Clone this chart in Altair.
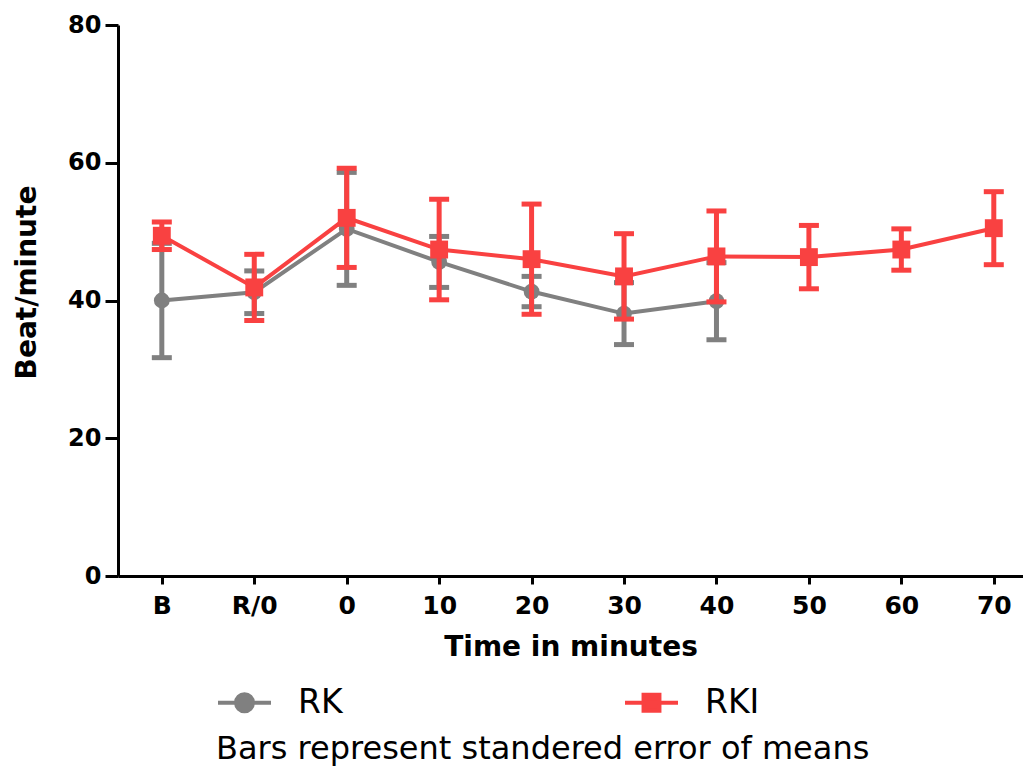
import altair as alt
import pandas as pd

times = ["B", "R/0", "0", "10", "20", "30", "40", "50", "60", "70"]
series_names = ["RK", "RKI"]
rk_mean = [40.0, 41.2, 50.4, 45.6, 41.3, 38.1, 39.9]
rk_sem = [8.3, 3.1, 8.2, 3.7, 2.2, 4.5, 5.6]
rki_mean = [49.4, 41.9, 52.0, 47.4, 46.0, 43.5, 46.4, 46.3, 47.4, 50.5]
rki_sem = [2.0, 4.8, 7.2, 7.3, 8.0, 6.2, 6.6, 4.6, 3.0, 5.3]

GRAY = "#808080"
RED = "#F94141"

rk_df = pd.DataFrame({"time": times[:len(rk_mean)], "mean": rk_mean, "sem": rk_sem})
rki_df = pd.DataFrame({"time": times[:len(rki_mean)], "mean": rki_mean, "sem": rki_sem})
legend_df = pd.DataFrame({"series": series_names})

x_enc = alt.X("time:N", sort=times, title="Time in minutes",
              scale=alt.Scale(type="point", padding=0.395, align=0.6),
              axis=alt.Axis(labelAngle=0))
y_scale = alt.Scale(domain=[0, 80])
y_axis = alt.Axis(values=[0, 20, 40, 60, 80], title="Beat/minute", titleY=257)


def series_layers(df, color, shape, size):
    base = alt.Chart(df).transform_calculate(
        lo="datum.mean - datum.sem", hi="datum.mean + datum.sem"
    )
    rule = base.mark_rule(color=color, strokeWidth=5).encode(
        x=x_enc, y=alt.Y("lo:Q", scale=y_scale, axis=y_axis), y2="hi:Q")
    tick_lo = base.mark_tick(color=color, thickness=5, size=20, orient="horizontal",
                             opacity=1).encode(x=x_enc, y=alt.Y("lo:Q", scale=y_scale))
    tick_hi = base.mark_tick(color=color, thickness=5, size=20, orient="horizontal",
                             opacity=1).encode(x=x_enc, y=alt.Y("hi:Q", scale=y_scale))
    line = base.mark_line(color=color, strokeWidth=4).encode(
        x=x_enc, y=alt.Y("mean:Q", scale=y_scale))
    pts = base.mark_point(filled=True, shape=shape, size=size, color=color, opacity=1).encode(
        x=x_enc, y=alt.Y("mean:Q", scale=y_scale))
    return [rule, tick_lo, tick_hi, line, pts]


rk_path = "M-1,0H1M0.32,0A0.32,0.32,0,1,1,-0.32,0A0.32,0.32,0,1,1,0.32,0Z"
rki_path = "M-1,0H1M-0.3,-0.3H0.3V0.3H-0.3Z"

legend_spec = alt.Legend(
    orient="none", legendX=98, legendY=649, direction="horizontal",
    titleOrient="bottom", titleAnchor="start", titleFontSize=32,
    titleFontWeight="normal", titleFont="DejaVu Sans", titleColor="black",
    titleLimit=1000, titlePadding=14,
    labelFontSize=33, labelFont="DejaVu Sans", labelColor="black",
    labelOffset=25, labelLimit=500, columnPadding=274,
    symbolSize=2809, symbolStrokeWidth=4, padding=0,
)
legend_title = "Bars represent standered error of means"
carrier = alt.Chart(legend_df).transform_filter("false").mark_point(
    filled=True, strokeWidth=4, opacity=1
).encode(
    fill=alt.Fill("series:N", title=legend_title,
                  scale=alt.Scale(domain=series_names, range=[GRAY, RED]),
                  legend=legend_spec),
    stroke=alt.Stroke("series:N", title=legend_title,
                      scale=alt.Scale(domain=series_names, range=[GRAY, RED]),
                      legend=legend_spec),
    shape=alt.Shape("series:N", title=legend_title,
                    scale=alt.Scale(domain=series_names, range=[rk_path, rki_path]),
                    legend=legend_spec),
)

layers = series_layers(rk_df, GRAY, "circle", 250) + series_layers(rki_df, RED, "square", 320) + [carrier]

chart = alt.layer(*layers).properties(
    width=905, height=551,
    padding={"left": 5, "top": 5, "right": 0, "bottom": 5},
).configure_view(stroke=None).configure_axis(
    grid=False, domainColor="black", domainWidth=3, tickColor="black", tickWidth=3,
    labelColor="black", titleColor="black", labelFont="DejaVu Sans", titleFont="DejaVu Sans",
    labelFontWeight="bold", titleFontWeight="bold",
).configure_axisY(
    tickSize=13, labelPadding=4, labelFontSize=24, titleFontSize=28, titlePadding=26,
).configure_axisX(
    tickSize=8, labelPadding=9, labelFontSize=25, titleFontSize=28, titlePadding=15,
)

chart.save("out.html", embed_options={"renderer": "svg", "actions": False})
